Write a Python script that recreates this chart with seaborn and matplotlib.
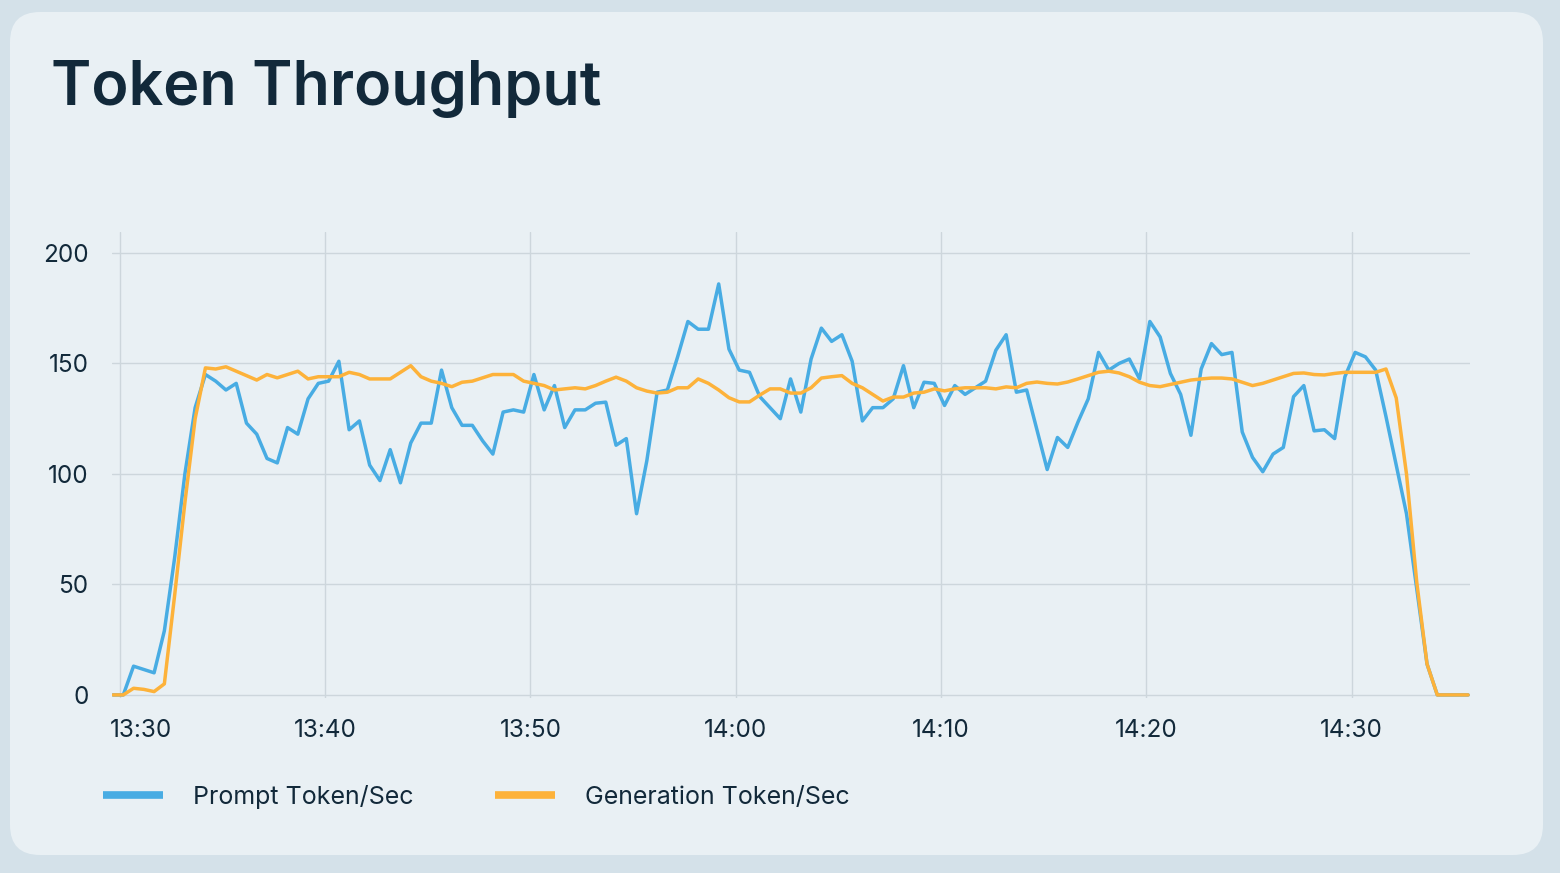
import numpy as np
import pandas as pd
import matplotlib
matplotlib.use("Agg")
import matplotlib.pyplot as plt
import matplotlib.dates as mdates
import seaborn as sns
from matplotlib.patches import FancyBboxPatch
from matplotlib.lines import Line2D
from matplotlib.transforms import ScaledTranslation

# ---------------- data ----------------
start_time = "2024-01-01 13:29:40"
step = "30s"

prompt_tps = [
    0, 0, 13, 11.5, 10, 29, 62, 100, 130, 145,
    142, 138, 141, 123, 118, 107, 105, 121, 118, 134,
    141, 142, 151, 120, 124, 104, 97, 111, 96, 114,
    123, 123, 147, 130, 122, 122, 115, 109, 128, 129,
    128, 145, 129, 140, 121, 129, 129, 132, 132.5, 113,
    116, 82, 106, 137, 138, 153, 169, 165.5, 165.5, 186,
    156.5, 147, 146, 135, 130, 125, 143, 128, 152, 166,
    160, 163, 151, 124, 130, 130, 134, 149, 130, 141.5,
    141, 131, 140, 136, 139, 142, 156, 163, 137, 138,
    120, 102, 116.5, 112, 123.5, 134, 155, 147, 150, 152,
    143, 169, 162, 145.5, 136, 117.5, 147.5, 159, 154, 155,
    119, 107.5, 101, 109, 112, 135, 140, 119.5, 120, 116,
    144, 155, 153, 147, 126, 104, 82, 48, 14, 0,
    0, 0, 0,
]

generation_tps = [
    0, 0, 3, 2.5, 1.5, 5, 45, 87, 125, 148,
    147.5, 148.5, 146.5, 144.5, 142.5, 145, 143.5, 145, 146.5, 143,
    144, 144, 144, 146, 145, 143, 143, 143, 146, 149,
    144, 142, 141, 139.5, 141.5, 142, 143.5, 145, 145, 145,
    142, 141, 140, 138, 138.5, 139, 138.5, 140, 142, 143.8,
    142, 139, 137.5, 136.6, 137, 139, 139, 143, 141, 138,
    134.5, 132.6, 132.6, 135.7, 138.5, 138.5, 136.6, 136.6, 139, 143.4,
    144, 144.5, 141, 139, 136, 133, 134.8, 134.8, 136.6, 137,
    138.5, 137.6, 138.5, 139, 139, 139, 138.5, 139.4, 139, 141,
    141.6, 141, 140.7, 141.6, 143, 144.5, 146, 146.5, 145.7, 144,
    141.5, 140, 139.5, 140.5, 141.5, 142.5, 143, 143.4, 143.4, 143,
    141.5, 140, 141, 142.5, 144, 145.5, 145.7, 145, 144.8, 145.5,
    146, 146, 146, 146, 147.5, 134.4, 100, 51, 14, 0,
    0, 0, 0,
]

series_names = ["Prompt Token/Sec", "Generation Token/Sec"]
y_ticks = [0, 50, 100, 150, 200]

# ---------------- styling ----------------
W, H, DPI = 1560, 873, 100
OUTER_BG = "#d4e1e9"
CARD_BG = "#e9f0f4"
BLUE = "#48ace3"
ORANGE = "#fdb23a"
GRID = "#cdd6dc"
TEXT = "#12293a"

sns.set_theme(style="white")
plt.rcParams["font.family"] = ["Inter", "DejaVu Sans"]

times = pd.date_range(start_time, periods=len(prompt_tps), freq=step)
df = pd.DataFrame({
    "time": np.concatenate([times, times]),
    "value": np.concatenate([prompt_tps, generation_tps]),
    "series": [series_names[0]] * len(times) + [series_names[1]] * len(times),
})

fig = plt.figure(figsize=(W / DPI, H / DPI), dpi=DPI, facecolor=OUTER_BG)

# card background
card = FancyBboxPatch((10 / DPI, (H - 855) / DPI), 1533 / DPI, 843 / DPI,
                      boxstyle="round,pad=0,rounding_size=0.3",
                      transform=fig.dpi_scale_trans, facecolor=CARD_BG,
                      edgecolor="none", zorder=-10)
fig.patches.append(card)

ax = fig.add_axes([112 / W, 1 - 698 / H, (1470 - 112) / W, (698 - 232) / H])
ax.set_facecolor("none")
ax.set_zorder(1)

sns.lineplot(data=df, x="time", y="value", hue="series",
             palette={series_names[0]: BLUE, series_names[1]: ORANGE},
             hue_order=series_names, linewidth=2.5, ax=ax, legend=False)

# axes limits
t0 = pd.Timestamp("2024-01-01 13:30:00")
ax.set_xlim(t0 - pd.Timedelta(seconds=23), t0 + pd.Timedelta(seconds=65.76 * 60))
ax.set_ylim(-1.4, 209.5)

ax.xaxis.set_major_locator(mdates.MinuteLocator(byminute=range(0, 60, 10)))
ax.xaxis.set_major_formatter(mdates.DateFormatter("%H:%M"))
ax.set_yticks(y_ticks)
ax.set_xlabel("")
ax.set_ylabel("")

ax.grid(True, color=GRID, linewidth=1.0)
ax.set_axisbelow(True)
for s in ax.spines.values():
    s.set_visible(False)

ax.tick_params(axis="both", length=0, labelsize=17.5, labelcolor=TEXT)
ax.tick_params(axis="y", pad=17)
ax.tick_params(axis="x", pad=15)

fig.canvas.draw()
xlabels = ax.get_xticklabels()
if xlabels:
    off = ScaledTranslation(21 / DPI, 0, fig.dpi_scale_trans)
    xlabels[0].set_transform(xlabels[0].get_transform() + off)

# title
fig.text(51 / W, 1 - 105 / H, "Token Throughput", fontsize=44, color=TEXT,
         fontweight="semibold", va="baseline", ha="left")

# legend
handles = [Line2D([], [], color=BLUE, linewidth=5.5, solid_capstyle="butt"),
           Line2D([], [], color=ORANGE, linewidth=5.5, solid_capstyle="butt")]
fig.legend(handles, series_names, loc="center left",
           bbox_to_anchor=(103 / W, 1 - 797 / H), ncol=2, frameon=False,
           fontsize=18, handlelength=2.4, handletextpad=1.2,
           columnspacing=3.25, borderpad=0, borderaxespad=0,
           labelcolor=TEXT)

fig.savefig("out.png", dpi=DPI, facecolor=OUTER_BG)
